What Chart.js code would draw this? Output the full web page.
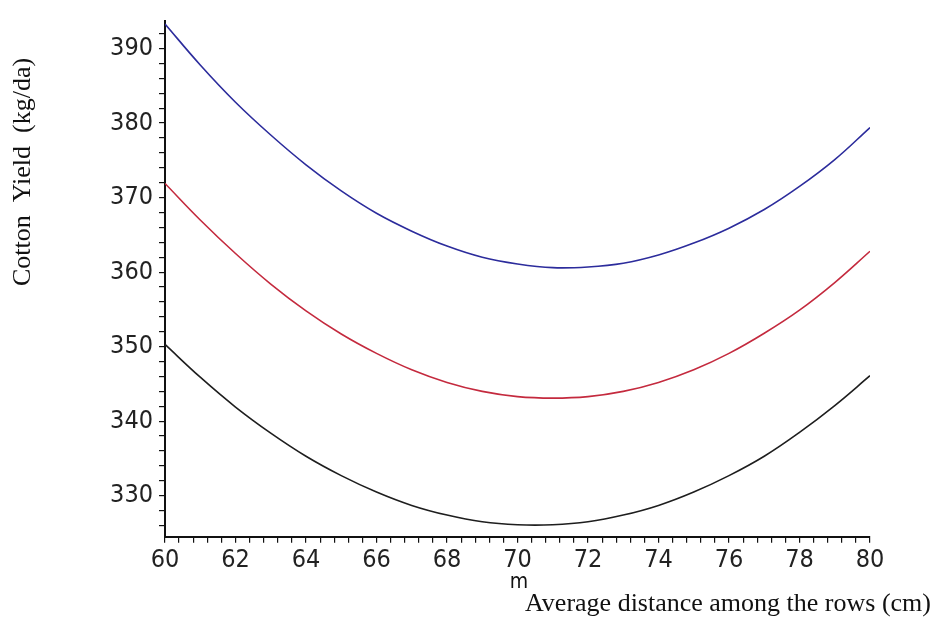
<!DOCTYPE html>
<html>
<head>
<meta charset="utf-8">
<script src="https://cdn.jsdelivr.net/npm/chart.js@4.4.1/dist/chart.umd.min.js"></script>
<style>
    html, body { margin: 0; padding: 0; background: #fff; }
    #wrap { width: 940px; height: 617px; }
</style>
</head>
<body>
<div id="wrap"><canvas id="yieldChart" width="940" height="617"></canvas></div>
<script>
// row distance (cm)
const distances = [60, 61, 62, 63, 64, 65, 66, 67, 68, 69, 70, 71, 72, 73, 74, 75, 76, 77, 78, 79, 80];

// cotton yield (kg/da)
const yieldBlue = [393.3, 387.8, 382.8, 378.4, 374.4, 370.9, 367.9, 365.5, 363.5, 362.0, 361.1, 360.6, 360.7, 361.2, 362.3, 363.9, 365.9, 368.4, 371.5, 375.1, 379.4];
const yieldRed = [371.9, 367.0, 362.5, 358.4, 354.8, 351.7, 349.1, 346.9, 345.2, 344.0, 343.3, 343.1, 343.3, 344.0, 345.2, 346.9, 349.1, 351.8, 354.9, 358.6, 362.8];
const yieldBlack = [350.3, 345.9, 341.9, 338.4, 335.3, 332.7, 330.5, 328.7, 327.4, 326.5, 326.1, 326.1, 326.5, 327.4, 328.7, 330.5, 332.7, 335.3, 338.5, 342.1, 346.1];

// tick labels
const xTickLabels = [60, 62, 64, 66, 68, 70, 72, 74, 76, 78, 80];
const yTickLabels = [330, 340, 350, 360, 370, 380, 390];

const xMinorStep = 0.4;
const yMinorStep = 2;

const toPoints = (ys) => distances.map((d, i) => ({ x: d, y: ys[i] }));

const minorTicks = (from, to, step) => {
    const out = [];
    const n = Math.round((to - from) / step);
    for (let i = 0; i <= n; i++) {
        out.push({ value: Math.round((from + i * step) * 100) / 100 });
    }
    return out;
};

const tickFont = { family: '"DejaVu Sans Condensed", "DejaVu Sans", sans-serif', size: 25 };

// axis titles drawn at their own spots, as in the original figure
const titlesPlugin = {
    id: 'titles',
    afterDraw(chart) {
        const ctx = chart.ctx;
        ctx.save();
        ctx.fillStyle = '#111';
        ctx.font = '26px "Liberation Serif", "Times New Roman", serif';
        ctx.textAlign = 'center';
        ctx.textBaseline = 'middle';
        ctx.translate(23, 172);
        ctx.rotate(-Math.PI / 2);
        ctx.fillText('Cotton  Yield  (kg/da)', 0, 0);
        ctx.restore();

        ctx.save();
        ctx.fillStyle = '#111';
        ctx.font = '21px "DejaVu Sans Condensed", "DejaVu Sans", sans-serif';
        ctx.textAlign = 'center';
        ctx.textBaseline = 'alphabetic';
        ctx.fillText('m', 519, 588);
        ctx.font = '26px "Liberation Serif", "Times New Roman", serif';
        ctx.textAlign = 'left';
        ctx.fillText('Average distance among the rows (cm)', 525, 611);
        ctx.restore();
    }
};

const ctx = document.getElementById('yieldChart').getContext('2d');
const chart = new Chart(ctx, {
    type: 'line',
    data: {
        datasets: [
            { data: toPoints(yieldBlue), borderColor: '#2c2c9c', borderWidth: 1.6 },
            { data: toPoints(yieldRed), borderColor: '#c42a3e', borderWidth: 1.6 },
            { data: toPoints(yieldBlack), borderColor: '#1e1e1e', borderWidth: 1.6 }
        ]
    },
    options: {
        responsive: false,
        animation: false,
        events: [],
        elements: {
            point: { radius: 0 },
            line: { tension: 0.4, fill: false }
        },
        layout: { padding: { left: 0, top: 15, right: 70, bottom: 0 } },
        plugins: {
            legend: { display: false },
            tooltip: { enabled: false }
        },
        scales: {
            x: {
                type: 'linear',
                min: 60,
                max: 80,
                afterBuildTicks: (scale) => { scale.ticks = minorTicks(60, 80, xMinorStep); },
                afterFit: (scale) => { scale.height = 80.3; },
                border: { display: true, color: '#111', width: 2 },
                grid: { drawOnChartArea: false, drawTicks: true, tickLength: 6, color: '#111', lineWidth: 1.2 },
                ticks: {
                    autoSkip: false,
                    maxRotation: 0,
                    padding: 3,
                    color: '#222',
                    font: tickFont,
                    callback: (v) => xTickLabels.includes(Math.round(v * 100) / 100) ? String(v) : ''
                }
            },
            y: {
                type: 'linear',
                min: 324.5,
                max: 393.7,
                afterBuildTicks: (scale) => { scale.ticks = minorTicks(326, 392, yMinorStep); },
                afterFit: (scale) => { scale.width = 165; },
                border: { display: true, color: '#111', width: 2 },
                grid: { drawOnChartArea: false, drawTicks: true, tickLength: 6, color: '#111', lineWidth: 1.2 },
                ticks: {
                    autoSkip: false,
                    padding: 6,
                    color: '#222',
                    font: tickFont,
                    callback: (v) => yTickLabels.includes(Math.round(v)) ? String(v) : ''
                }
            }
        }
    },
    plugins: [titlesPlugin]
});
</script>
</body>
</html>
